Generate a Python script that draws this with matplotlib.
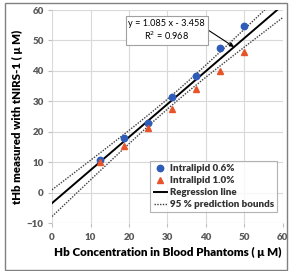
import numpy as np
import matplotlib
matplotlib.use("Agg")
import matplotlib.pyplot as plt
from matplotlib.patches import Rectangle

# ---- data ----
hb_conc = [12.5, 18.75, 25.0, 31.25, 37.5, 43.75, 50.0]
lip06 = [10.8, 17.8, 23.0, 31.5, 38.3, 47.4, 54.8]
lip10 = [10.2, 15.4, 21.2, 27.5, 34.2, 40.0, 46.3]
slope, intercept = 1.085, -3.458
r2 = 0.968
xticks = [0, 10, 20, 30, 40, 50, 60]
yticks = [-10, 0, 10, 20, 30, 40, 50, 60]

plt.rcParams['font.family'] = ['Lato', 'DejaVu Sans']

fig = plt.figure(figsize=(2.89, 2.71), dpi=100)
ax = fig.add_axes([0.180, 0.177, 0.799, 0.786])

# band from data
xs = np.array(hb_conc + hb_conc)
ys = np.array(lip06 + lip10)
n = len(xs)
res = ys - (slope * xs + intercept)
s = np.sqrt(np.sum(res ** 2) / (n - 2))
xm = xs.mean()
sxx = np.sum((xs - xm) ** 2)
tval = 2.179
xl = np.linspace(0, 60, 200)
yl = slope * xl + intercept
half = tval * s * np.sqrt(1.0 / n + (xl - xm) ** 2 / sxx)

ax.plot(xl, yl + half, color='#404040', lw=1.0, ls=(0, (1, 1)), zorder=3)
ax.plot(xl, yl - half, color='#404040', lw=1.0, ls=(0, (1, 1)), zorder=3,
        label='95 % prediction bounds')
ax.plot(xl, yl, color='black', lw=1.4, zorder=4, label='Regression line')
ax.plot(hb_conc, lip06, 'o', color='#2E5CB8', ms=4.6, zorder=5, label='Intralipid 0.6%')
ax.plot(hb_conc, lip10, '^', color='#E8542A', ms=4.6, zorder=5, label='Intralipid 1.0%')

ax.set_xlim(0, 60)
ax.set_ylim(-10, 60)
ax.set_xticks(xticks)
ax.set_yticks(yticks)
ax.grid(True, color='#D9D9D9', lw=0.8)
ax.set_axisbelow(True)
for sp in ax.spines.values():
    sp.set_visible(False)
ax.tick_params(axis='both', length=3, color='#BFBFBF', labelsize=7,
               labelcolor='#595959')
ax.tick_params(axis='x', pad=4)
ax.tick_params(axis='y', pad=3)
for lab in ax.get_xticklabels() + ax.get_yticklabels():
    lab.set_fontweight('heavy')

ax.set_xlabel('Hb Concentration in Blood Phantoms ( μ M)', fontsize=8.4,
              fontweight='heavy', labelpad=4)
ax.set_ylabel('tHb measured with tNIRS-1 ( μ M)', fontsize=8.2,
              fontweight='heavy', labelpad=3)

xa = 47.3
ax.annotate('y = 1.085 x - 3.458\nR$^2$ = 0.968', xy=(xa, slope * xa + intercept),
            xytext=(29.8, 53.3), ha='center', va='center', fontsize=6.6,
            multialignment='center',
            bbox=dict(boxstyle='square,pad=0.3', fc='white', ec='#A0A0A0', lw=0.8),
            arrowprops=dict(arrowstyle='-|>', color='black', lw=0.8,
                            mutation_scale=6, shrinkA=0, shrinkB=0,
                            relpos=(1.0, 0.6)), zorder=6)

h, l = ax.get_legend_handles_labels()
order = [2, 3, 1, 0]
leg = ax.legend([h[i] for i in order], [l[i] for i in order], loc='lower right',
                bbox_to_anchor=(0.975, 0.05), fontsize=7.0, frameon=True,
                fancybox=False, edgecolor='#A0A0A0', handlelength=1.4,
                handletextpad=0.25, borderpad=0.35, labelspacing=0.3,
                borderaxespad=0)
leg.get_frame().set_linewidth(0.8)
for t in leg.get_texts():
    t.set_fontweight('heavy')
    t.set_color('#333333')

fig.patches.append(Rectangle((5 / 289, 1 / 271), 282 / 289, 267 / 271,
                             transform=fig.transFigure, fill=False,
                             ec='#808080', lw=1.0))

fig.savefig('out.png', dpi=100)
